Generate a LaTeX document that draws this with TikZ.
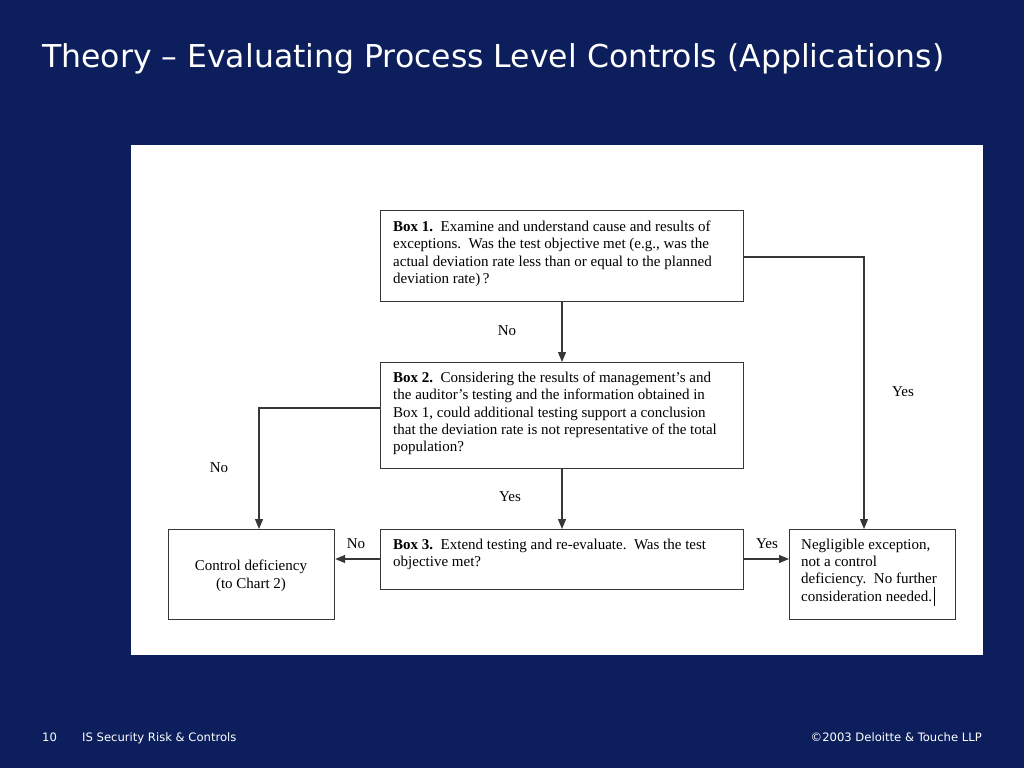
\documentclass[tikz,border=0pt]{standalone}
\usepackage{fontspec}
\setmainfont{Liberation Serif}
\newfontfamily\slidefont{DejaVu Sans}
\usetikzlibrary{arrows.meta}
\definecolor{slidebg}{RGB}{12,31,92}
\definecolor{boxline}{RGB}{55,55,55}
\tikzset{
  box/.style={draw=boxline, line width=1.2pt, fill=white, inner sep=0pt, anchor=north west},
  boxtext/.style={anchor=north west, inner sep=0pt, align=left, font=\fontsize{15}{17.4}\selectfont},
  lab/.style={inner sep=0pt, font=\fontsize{15}{17}\selectfont},
  conn/.style={draw=boxline, line width=1.2pt, -{Triangle[length=10pt,width=8pt]}},
  foot/.style={text=white, inner sep=0pt, font=\slidefont\fontsize{11.6}{13}\selectfont}
}
\begin{document}
\begin{tikzpicture}[x=1pt,y=-1pt]
\fill[slidebg] (0,0) rectangle (1024,768);
\useasboundingbox (0,0) rectangle (1024,768);
\node[anchor=base west, text=white, inner sep=0pt, font=\slidefont\fontsize{31.5}{36}\selectfont] (title) at (42,67) {Theory – Evaluating Process Level Controls (Applications)};
\fill[white] (131,145) rectangle (983,655);
% boxes
\node[box, minimum width=363pt, minimum height=91pt] (b1) at (380,210) {};
\node[box, minimum width=363pt, minimum height=106pt] (b2) at (380,362) {};
\node[box, minimum width=363pt, minimum height=60pt] (b3) at (380,529) {};
\node[box, minimum width=166pt, minimum height=90pt] (cd) at (168,529) {};
\node[box, minimum width=166pt, minimum height=90pt] (ne) at (789,529) {};
% texts
\node[boxtext] (t1) at (393,220.5) {\textbf{Box 1.}\ \ Examine and understand cause and results of\\exceptions.\ \ Was the test objective met (e.g., was the\\actual deviation rate less than or equal to the planned\\deviation rate)\,?};
\node[boxtext] (t2) at (393,371.5) {\textbf{Box 2.}\ \ Considering the results of management’s and\\the auditor’s testing and the information obtained in\\Box 1, could additional testing support a conclusion\\that the deviation rate is not representative of the total\\population?};
\node[boxtext] (t3) at (393,538.5) {\textbf{Box 3.}\ \ Extend testing and re-evaluate.\ \ Was the test\\objective met?};
\node[boxtext, anchor=center, align=center] (t4) at (251,576) {Control deficiency\\(to Chart 2)};
\node[boxtext] (t5) at (801,538.5) {Negligible exception,\\not a control\\deficiency.\ \ No further\\consideration needed.};
\coordinate (cur1) at (934,587);
\coordinate (cur2) at (934,606);
\draw[black, line width=0.8pt] (cur1) -- (cur2);
% connectors
\draw[conn] (b1.south -| 562,0) -- (b2.north -| 562,0);
\node[lab] (l1) at (507,331) {No};
\coordinate (c1) at (864,257);
\draw[conn] (b1.east |- c1) -- (c1) -- (ne.north -| c1);
\node[lab] (l2) at (903,392) {Yes};
\coordinate (c2) at (259,408);
\draw[conn] (b2.west |- c2) -- (c2) -- (cd.north -| c2);
\node[lab] (l3) at (219,468) {No};
\draw[conn] (b2.south -| 562,0) -- (b3.north -| 562,0);
\node[lab] (l4) at (510,497) {Yes};
\coordinate (c3) at (0,559);
\draw[conn] (b3.west |- c3) -- (cd.east |- c3);
\node[lab] (l5) at (356,544) {No};
\draw[conn] (b3.east |- c3) -- (ne.west |- c3);
\node[lab] (l6) at (767,544) {Yes};
% footer
\node[foot, anchor=base west] (pg) at (42,741) {10};
\node[foot, anchor=base west] (ft1) at (82,741) {IS Security Risk \& Controls};
\node[foot, anchor=base east] (ft2) at (982,741) {©2003 Deloitte \& Touche LLP};
\end{tikzpicture}
\end{document}
